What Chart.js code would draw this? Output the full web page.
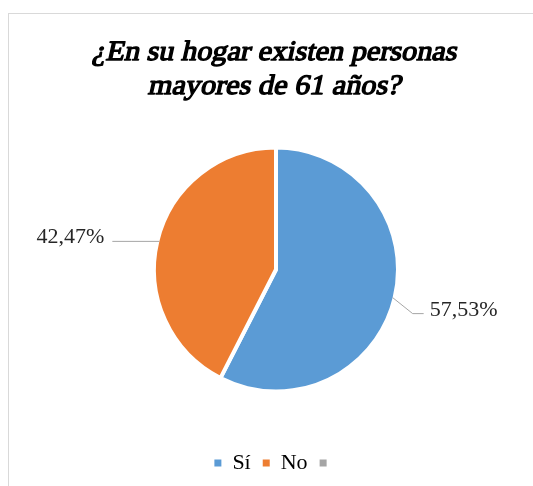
<!DOCTYPE html>
<html>
<head>
<meta charset="utf-8">
<script src="https://cdn.jsdelivr.net/npm/chart.js@4"></script>
<style>
  html, body { margin: 0; padding: 0; background: #fff; overflow: hidden; }
  #marco {
    position: absolute; left: 8px; top: 13px; width: 600px; height: 600px;
    border-top: 1px solid #d9d9d9; border-left: 1px solid #d9d9d9;
  }
  #graficoHogar { position: absolute; left: 0; top: 0; width: 533px; height: 486px; }
</style>
</head>
<body>
<div id="marco"></div>
<canvas id="graficoHogar" width="533" height="486"></canvas>
<script>
// Datos de la encuesta
const categorias = ["Sí", "No", ""];
const porcentajes = [57.53, 42.47, 0];
const colores = ["#5b9bd5", "#ed7d31", "#a5a5a5"];
const tituloLineas = ["¿En su hogar existen personas", "mayores de 61 años?"];

const fuenteSerif = "'Liberation Serif', 'Times New Roman', 'DejaVu Serif', serif";

// Guias de las etiquetas: codo desde el borde de la porcion y tramo horizontal
const guias = [
  { codo: [20, 16], tramo: 11 },
  { codo: [0, 0], tramo: -47 },
];

// Titulo serif: negrita simulada con trazo e inclinacion para la cursiva
const tituloSerif = {
  id: "tituloSerif",
  afterDraw(chart) {
    const { ctx } = chart;
    ctx.save();
    ctx.font = "28px " + fuenteSerif;
    ctx.fillStyle = "#000000";
    ctx.strokeStyle = "#000000";
    ctx.lineWidth = 1.3;
    ctx.lineJoin = "round";
    ctx.textAlign = "center";
    ctx.textBaseline = "alphabetic";
    const cx = 274;
    tituloLineas.forEach((linea, i) => {
      const by = 60 + i * 34;
      ctx.save();
      ctx.translate(cx, by);
      ctx.transform(1.08, 0, -0.22, 1, 0, 0);
      ctx.fillText(linea, 0, 0);
      ctx.strokeText(linea, 0, 0);
      ctx.restore();
    });
    ctx.restore();
  },
};

const etiquetasPorcentaje = {
  id: "etiquetasPorcentaje",
  afterDatasetsDraw(chart) {
    const { ctx } = chart;
    const meta = chart.getDatasetMeta(0);
    meta.data.forEach((arco, i) => {
      if (!porcentajes[i] || !guias[i]) return;
      const { x, y, startAngle, endAngle, outerRadius } = arco.getProps(
        ["x", "y", "startAngle", "endAngle", "outerRadius"], true);
      const medio = (startAngle + endAngle) / 2;
      const bx = x + Math.cos(medio) * (outerRadius - 2);
      const by = y + Math.sin(medio) * (outerRadius - 2);
      const cx = bx + guias[i].codo[0];
      const cy = by + guias[i].codo[1];
      const fx = cx + guias[i].tramo;

      ctx.save();
      ctx.strokeStyle = "#a6a6a6";
      ctx.lineWidth = 1;
      ctx.beginPath();
      ctx.moveTo(bx, by);
      ctx.lineTo(cx, cy);
      ctx.lineTo(fx, cy);
      ctx.stroke();

      const derecha = guias[i].tramo > 0;
      ctx.font = "22px " + fuenteSerif;
      ctx.fillStyle = "#262626";
      ctx.textBaseline = "alphabetic";
      ctx.textAlign = derecha ? "left" : "right";
      const texto = porcentajes[i].toFixed(2).replace(".", ",") + "%";
      ctx.fillText(texto, fx + (derecha ? 6 : -8), cy + 2);
      ctx.restore();
    });
  },
};

const ctxPie = document.getElementById("graficoHogar").getContext("2d");
new Chart(ctxPie, {
  type: "pie",
  data: {
    labels: categorias,
    datasets: [
      {
        data: porcentajes,
        backgroundColor: colores,
        borderColor: "#ffffff",
        borderWidth: 4,
        radius: 122,
      },
    ],
  },
  options: {
    responsive: false,
    animation: false,
    layout: { padding: { left: 19, right: 0, top: 99, bottom: 2 } },
    plugins: {
      tooltip: { enabled: false },
      title: { display: false },
      legend: {
        position: "bottom",
        labels: {
          boxWidth: 7,
          boxHeight: 7,
          padding: 12,
          color: "#000000",
          font: { family: fuenteSerif, size: 22 },
          // cuadritos sin el borde blanco de las porciones
          generateLabels(chart) {
            const items = Chart.overrides.pie.plugins.legend.labels.generateLabels(chart);
            return items.map((it) => ({ ...it, lineWidth: 0 }));
          },
        },
      },
    },
  },
  plugins: [etiquetasPorcentaje, tituloSerif],
});
</script>
</body>
</html>
